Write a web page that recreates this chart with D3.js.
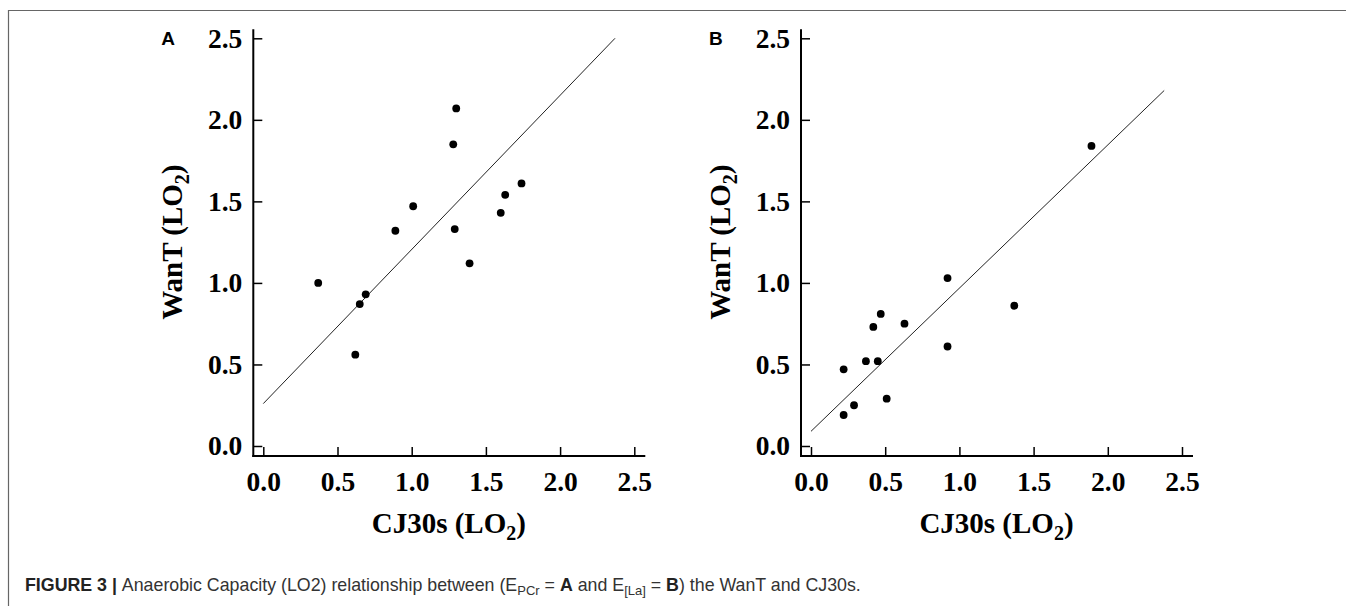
<!DOCTYPE html>
<html>
<head>
<meta charset="utf-8">
<script src="https://cdn.jsdelivr.net/npm/d3@7"></script>
<style>
  html, body { margin: 0; padding: 0; background: #fff; }
  svg { display: block; }
</style>
</head>
<body>
<div id="chart"></div>
<script>
// panel A (E_PCr) points
const aX = [0.37, 0.62, 0.65, 0.69, 0.89, 1.01, 1.28, 1.30, 1.29, 1.39, 1.60, 1.63, 1.74]
const aY = [1.00, 0.56, 0.87, 0.93, 1.32, 1.47, 1.85, 2.07, 1.33, 1.12, 1.43, 1.54, 1.61]
// panel B (E_[La]) points
const bX = [0.22, 0.22, 0.29, 0.37, 0.45, 0.42, 0.47, 0.51, 0.63, 0.92, 0.92, 1.37, 1.89]
const bY = [0.47, 0.19, 0.25, 0.52, 0.52, 0.73, 0.81, 0.29, 0.75, 1.03, 0.61, 0.86, 1.84]
// regression line end points
const fitAX = [0, 2.37]
const fitAY = [0.26, 2.50]
const fitBX = [0, 2.38]
const fitBY = [0.09, 2.18]

const ticks = [0, 0.5, 1.0, 1.5, 2.0, 2.5]
const panelLabels = ['A', 'B']
const xTitle = 'CJ30s (LO'
const yTitle = 'WanT (LO'

const W = 1346, H = 606
const serif = '"Liberation Serif", "Times New Roman", serif'
const sans = '"Liberation Sans", Arial, sans-serif'

const svg = d3.select('#chart')
  .append('svg')
  .attr('width', W)
  .attr('height', H)

// frame lines (top and left)
svg.append('path')
  .attr('d', `M8.5,${H} V10.5 H${W}`)
  .attr('fill', 'none')
  .attr('stroke', '#666')
  .attr('stroke-width', 1.2)

const panels = [
  { axisX: 253.3, xs: aX, ys: aY, fx: fitAX, fy: fitAY, label: panelLabels[0] },
  { axisX: 801, xs: bX, ys: bY, fx: fitBX, fy: fitBY, label: panelLabels[1] }
]

const y = d3.scaleLinear().domain([0, 2.5]).range([446, 38.3])
const axisY = 456

panels.forEach(p => {
  const x = d3.scaleLinear().domain([0, 2.5]).range([p.axisX + 10, p.axisX + 381])
  const g = svg.append('g')

  // axes lines
  g.append('line')
    .attr('x1', p.axisX).attr('x2', p.axisX)
    .attr('y1', y(2.5) - 9).attr('y2', axisY + 1)
    .attr('stroke', '#000').attr('stroke-width', 2)
  g.append('line')
    .attr('x1', p.axisX - 1).attr('x2', x(2.5) + 11)
    .attr('y1', axisY).attr('y2', axisY)
    .attr('stroke', '#000').attr('stroke-width', 2)

  const yAxis = g.append('g')
    .attr('transform', `translate(${p.axisX},0)`)
    .call(d3.axisLeft(y).tickValues(ticks).tickFormat(d3.format('.1f'))
      .tickSizeInner(-9).tickSizeOuter(0).tickPadding(11))
  const xAxis = g.append('g')
    .attr('transform', `translate(0,${axisY})`)
    .call(d3.axisBottom(x).tickValues(ticks).tickFormat(d3.format('.1f'))
      .tickSizeInner(-9).tickSizeOuter(0).tickPadding(15))

  ;[xAxis, yAxis].forEach(a => {
    a.select('.domain').remove()
    a.selectAll('.tick line').attr('stroke', '#000').attr('stroke-width', 1.5)
    a.selectAll('.tick text')
      .attr('fill', '#000')
      .style('font-family', serif)
      .style('font-weight', 'bold')
      .style('font-size', '27.5px')
  })

  // regression line
  g.append('line')
    .attr('x1', x(p.fx[0])).attr('y1', y(p.fy[0]))
    .attr('x2', x(p.fx[1])).attr('y2', y(p.fy[1]))
    .attr('stroke', '#222').attr('stroke-width', 1)

  // points
  g.selectAll('circle')
    .data(p.xs.map((v, i) => [v, p.ys[i]]))
    .enter()
    .append('circle')
    .attr('cx', d => x(d[0]))
    .attr('cy', d => y(d[1]))
    .attr('r', 3.9)
    .attr('fill', '#000')

  // x title
  const xt = g.append('text')
    .attr('x', (x(0) + x(2.5)) / 2)
    .attr('y', 533)
    .attr('text-anchor', 'middle')
    .style('font-family', serif)
    .style('font-weight', 'bold')
    .style('font-size', '29px')
  xt.append('tspan').text(xTitle)
  xt.append('tspan').attr('dy', 7).style('font-size', '20px').text('2')
  xt.append('tspan').attr('dy', -7).text(')')

  // y title
  const yt = g.append('text')
    .attr('transform', `translate(${p.axisX - 71},${(y(0) + y(2.5)) / 2}) rotate(-90)`)
    .attr('text-anchor', 'middle')
    .style('font-family', serif)
    .style('font-weight', 'bold')
    .style('font-size', '29px')
  yt.append('tspan').text(yTitle)
  yt.append('tspan').attr('dy', 7).style('font-size', '20px').text('2')
  yt.append('tspan').attr('dy', -7).text(')')

  // panel letter
  g.append('text')
    .attr('x', p.axisX - 92)
    .attr('y', 45)
    .style('font-family', sans)
    .style('font-weight', 'bold')
    .style('font-size', '19px')
    .text(p.label)
})

// caption
const cap = svg.append('text')
  .attr('x', 25)
  .attr('y', 591)
  .attr('fill', '#333')
  .style('font-family', sans)
  .style('font-size', '17.8px')
cap.append('tspan').style('font-weight', 'bold').attr('fill', '#222').text('FIGURE 3 | ')
cap.append('tspan').text('Anaerobic Capacity (LO2) relationship between (E')
cap.append('tspan').attr('dy', 4).style('font-size', '13px').text('PCr')
cap.append('tspan').attr('dy', -4).text(' = ')
cap.append('tspan').style('font-weight', 'bold').attr('fill', '#222').text('A')
cap.append('tspan').text(' and E')
cap.append('tspan').attr('dy', 4).style('font-size', '13px').text('[La]')
cap.append('tspan').attr('dy', -4).text(' = ')
cap.append('tspan').style('font-weight', 'bold').attr('fill', '#222').text('B')
cap.append('tspan').text(') the WanT and CJ30s.')
</script>
</body>
</html>
